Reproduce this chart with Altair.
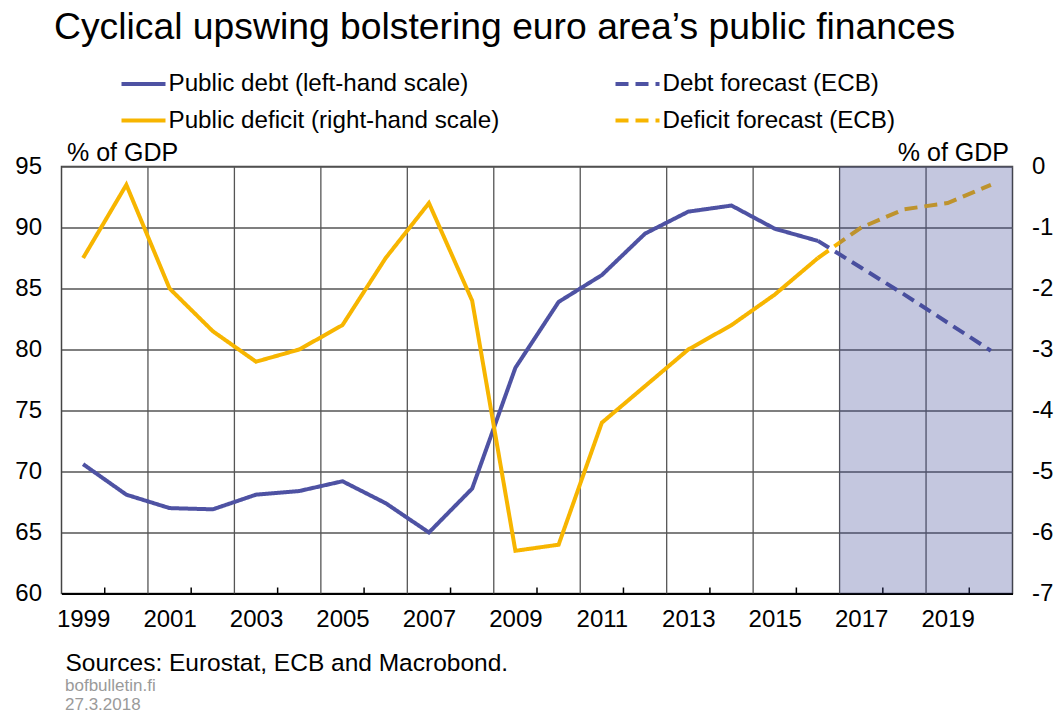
import altair as alt
import pandas as pd

FONT = "Liberation Sans"
BLUE = "#4E52A3"
YELLOW = "#F7B500"

# ---- data ----
years = list(range(1999, 2017))
debt = [70.6, 68.1, 67.0, 66.9, 68.1, 68.4, 69.2, 67.4, 65.0, 68.6,
        78.5, 83.9, 86.1, 89.5, 91.3, 91.8, 89.9, 88.9]
deficit = [-1.5, -0.3, -2.0, -2.7, -3.2, -3.0, -2.6, -1.5, -0.6, -2.2,
           -6.3, -6.2, -4.2, -3.6, -3.0, -2.6, -2.1, -1.5]
fc_years = [2016, 2017, 2018, 2019, 2020]
debt_fc = [88.9, 86.7, 84.5, 82.2, 79.9]
deficit_fc = [-1.5, -1.0, -0.7, -0.6, -0.3]

label_years = list(range(1999, 2020, 2))
left_ticks = [60, 65, 70, 75, 80, 85, 90, 95]
right_ticks = [-7, -6, -5, -4, -3, -2, -1, 0]

S_DEBT = "Public debt (left-hand scale)"
S_DEF = "Public deficit (right-hand scale)"
S_DEBT_FC = "Debt forecast (ECB)"
S_DEF_FC = "Deficit forecast (ECB)"
order = [S_DEBT, S_DEF, S_DEBT_FC, S_DEF_FC]

title_text = "Cyclical upswing bolstering euro area\u2019s public finances"
source_text = "Sources: Eurostat, ECB and Macrobond."
notes = ["bofbulletin.fi", "27.3.2018"]

# ---- tables ----
debt_df = pd.DataFrame({
    "year": years + fc_years,
    "value": debt + debt_fc,
    "series": [S_DEBT] * len(years) + [S_DEBT_FC] * len(fc_years),
})
def_df = pd.DataFrame({
    "year": years + fc_years,
    "value": deficit + deficit_fc,
    "series": [S_DEF] * len(years) + [S_DEF_FC] * len(fc_years),
})
grid_df = pd.DataFrame({"year": [y + 1 for y in label_years[:-1]]})
minor_df = pd.DataFrame({"year": label_years})
shade_df = pd.DataFrame({"start": [fc_years[1]], "end": [fc_years[-1]]})

W, H = 951, 427
xdom = [min(years) - 0.5, max(fc_years) + 0.5]
xscale = alt.Scale(domain=xdom, nice=False, zero=False)
xaxis = alt.Axis(
    values=label_years, format="d", grid=False, ticks=False,
    domain=True, domainColor="black", domainWidth=2,
    labelFontSize=24, labelPadding=14, labelFont=FONT, labelColor="black",
    title=source_text, titleX=3.5, titleY=77, titleAlign="left",
    titleAnchor="start", titleBaseline="alphabetic", titleFontSize=24.5,
    titleFontWeight="normal", titleFont=FONT, titleColor="black",
)

legend = alt.Legend(
    title=None, orient="none", legendX=58, legendY=-107, columns=2,
    symbolType="stroke", symbolSize=1936, symbolStrokeWidth=4,
    labelFontSize=24.2, labelFont=FONT, labelColor="black", labelLimit=600,
    labelOffset=1, rowPadding=-13, columnPadding=108, padding=0,
)
color = alt.Color("series:N", scale=alt.Scale(domain=order, range=[BLUE, YELLOW, BLUE, YELLOW]),
                  legend=legend)
dash = alt.StrokeDash("series:N", scale=alt.Scale(domain=order, range=[[1, 0], [1, 0], [13, 7], [13, 7]]),
                      legend=legend)

vgrid = alt.Chart(grid_df).transform_calculate(b="datum.year + 0.5").mark_rule(
    color="#555", strokeWidth=1.3
).encode(x=alt.X("b:Q", scale=xscale, axis=xaxis))

minor = alt.Chart(minor_df).transform_calculate(b="datum.year + 0.5").mark_rule(
    color="black", strokeWidth=1.5
).encode(x=alt.X("b:Q", scale=xscale, axis=xaxis), y=alt.value(H), y2=alt.value(H - 6))

debt_line = alt.Chart(debt_df).mark_line(strokeWidth=4).encode(
    x=alt.X("year:Q", scale=xscale, axis=xaxis),
    y=alt.Y("value:Q", scale=alt.Scale(domain=[60, 95], nice=False, zero=False),
            axis=alt.Axis(values=left_ticks, grid=True, gridColor="#555", gridWidth=1.3,
                          ticks=False, domain=False, labelFontSize=24, labelPadding=20,
                          labelFont=FONT, labelColor="black",
                          title="% of GDP", titleAngle=0, titleAlign="left",
                          titleBaseline="alphabetic", titleX=5, titleY=-6,
                          titleFontSize=25, titleFontWeight="normal", titleFont=FONT,
                          titleColor="black")),
    color=color, strokeDash=dash,
)

note1 = alt.Chart(pd.DataFrame({"t": [notes[0]]})).mark_text(
    align="left", baseline="alphabetic", fontSize=17, font=FONT, color="#9a9a9a"
).encode(text="t:N", x=alt.value(3.5), y=alt.value(524))
note2 = alt.Chart(pd.DataFrame({"t": [notes[1]]})).mark_text(
    align="left", baseline="alphabetic", fontSize=17, font=FONT, color="#9a9a9a"
).encode(text="t:N", x=alt.value(3.5), y=alt.value(543))

def_line = alt.Chart(def_df).mark_line(strokeWidth=4).encode(
    x=alt.X("year:Q", scale=xscale, axis=xaxis),
    y=alt.Y("value:Q", scale=alt.Scale(domain=[-7, 0], nice=False, zero=False),
            axis=alt.Axis(orient="right", values=right_ticks, grid=False, ticks=False,
                          domain=False, labelFontSize=24, labelPadding=19,
                          labelExpr="datum.value < 0 ? '-' + abs(datum.value) : '' + datum.value",
                          labelFont=FONT, labelColor="black",
                          title="% of GDP", titleAngle=0, titleAlign="right",
                          titleBaseline="alphabetic", titleX=-4, titleY=-6,
                          titleFontSize=25, titleFontWeight="normal", titleFont=FONT,
                          titleColor="black")),
    color=color, strokeDash=dash,
)

shade = alt.Chart(shade_df).transform_calculate(
    s="datum.start - 0.5", e="datum.end + 0.5"
).mark_rect(color="#3C4696", opacity=0.3).encode(
    x=alt.X("s:Q", scale=xscale, axis=xaxis), x2="e:Q"
)

left = alt.layer(vgrid, minor, debt_line, note1, note2)
right = alt.layer(def_line, shade)

chart = alt.layer(left, right).resolve_scale(y="independent").properties(
    width=W, height=H,
    title=alt.TitleParams(text=title_text, anchor="start", frame="group", fontSize=37.3,
                          font=FONT, fontWeight="normal", color="black", dx=-7.5, dy=41,
                          offset=24, baseline="alphabetic"),
    autosize=alt.AutoSizeParams(type="none"),
    padding={"left": 53.5, "top": 158.5, "right": 41.5, "bottom": 120},
).configure_view(stroke="#444", strokeWidth=1.5)

chart.save("out.html", embed_options={"renderer": "svg", "actions": False})
